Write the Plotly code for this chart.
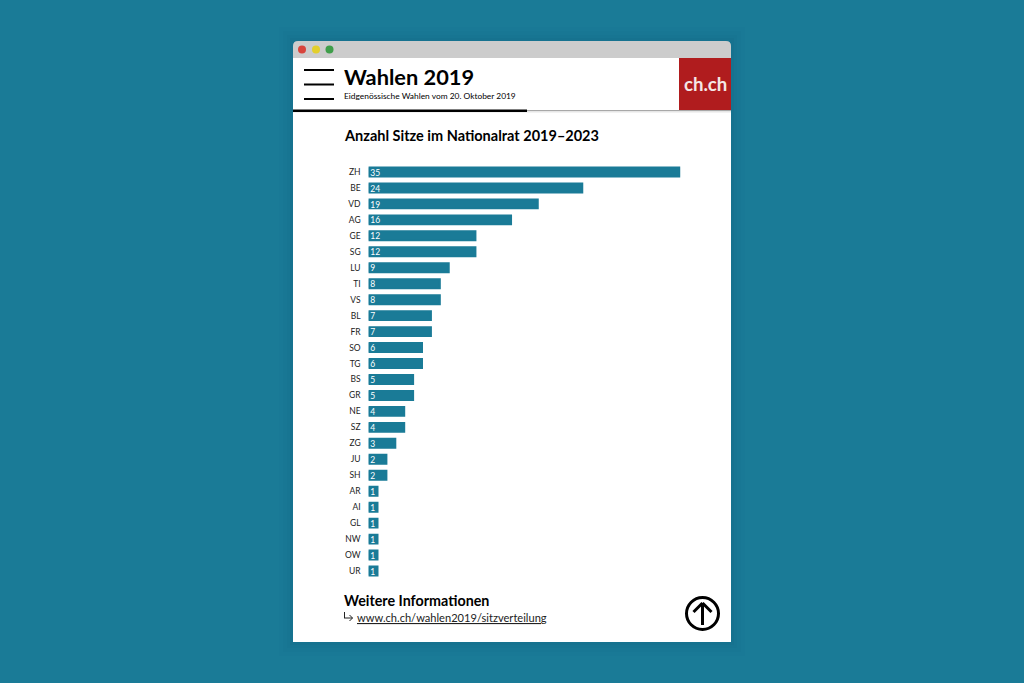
import plotly.graph_objects as go

W, H = 1024, 683

cantons = ["ZH", "BE", "VD", "AG", "GE", "SG", "LU", "TI", "VS", "BL", "FR", "SO", "TG",
           "BS", "GR", "NE", "SZ", "ZG", "JU", "SH", "AR", "AI", "GL", "NW", "OW", "UR"]
seats = [35, 24, 19, 16, 12, 12, 9, 8, 8, 7, 7, 6, 6, 5, 5, 4, 4, 3, 2, 2, 1, 1, 1, 1, 1, 1]

TEAL = "#1a7b97"
FONT = "Lato"
LABEL_INSET = 0.2


def px(v):
    return v / W


def py(v):
    return 1 - v / H


def rect(x0, y0, x1, y1, fill, line=None, width=0, layer="below"):
    return dict(type="rect", xref="paper", yref="paper", layer=layer,
                x0=px(x0), x1=px(x1), y0=py(y0), y1=py(y1), fillcolor=fill,
                line=dict(color=line or fill, width=width))


def circle(cx, cy, r, fill, line=None, width=0):
    return dict(type="circle", xref="paper", yref="paper", layer="below",
                x0=px(cx - r), x1=px(cx + r), y0=py(cy - r), y1=py(cy + r), fillcolor=fill,
                line=dict(color=line or fill, width=width))


def seg(x0, y0, x1, y1, color="#000000", width=2):
    return dict(type="line", xref="paper", yref="paper", layer="below",
                x0=px(x0), x1=px(x1), y0=py(y0), y1=py(y1), line=dict(color=color, width=width))


def text(x, y, s, size, color="#000000", anchor="left", family=FONT):
    return dict(xref="paper", yref="paper", x=px(x), y=py(y), text=s, showarrow=False,
                xanchor=anchor, yanchor="middle", align=anchor,
                font=dict(family=family, size=size, color=color), borderpad=0)


shapes = []
for grow, alpha in ((14, 0.02), (10, 0.025), (6, 0.03), (3, 0.04)):
    shapes.append(rect(293 - grow, 41 - grow, 731 + grow, 642 + grow, f"rgba(10,60,80,{alpha})"))

shapes += [
    rect(293, 50, 731, 642, "#ffffff"),
    dict(type="path", xref="paper", yref="paper", layer="below",
         path=(f"M {px(293)} {py(58)} L {px(293)} {py(46)} Q {px(293)} {py(41)} {px(298)} {py(41)} "
               f"L {px(726)} {py(41)} Q {px(731)} {py(41)} {px(731)} {py(46)} L {px(731)} {py(58)} Z"),
         fillcolor="#cccccc", line=dict(width=0)),
    circle(302, 49.5, 4, "#d8443c"),
    circle(316, 49.5, 4, "#e3cf2b"),
    circle(329.5, 49.5, 4, "#3f9e4a"),
    rect(293, 110, 731, 111, "#a8a8a8"),
    rect(293, 111, 731, 112.5, "#e6e6e6"),
    rect(293, 109.5, 527, 112, "#000000"),
    rect(679, 58, 731, 110, "#b01c1e"),
    seg(304, 70, 334, 70),
    seg(304, 84.5, 334, 84.5),
    seg(304, 99, 334, 99),
    circle(702.5, 613.5, 16, "rgba(0,0,0,0)", "#000000", 3),
    seg(702.5, 603, 702.5, 625, width=3),
    seg(693.5, 612, 702.5, 603, width=3),
    seg(711.5, 612, 702.5, 603, width=3),
    seg(344, 618, 352.5, 618, "#222222", 1),
    seg(344.5, 612, 344.5, 618, "#222222", 1),
    seg(349.5, 615, 352.5, 618, "#222222", 1),
    seg(349.5, 621, 352.5, 618, "#222222", 1),
]

annotations = [
    text(343, 76.5, "<b>Wahlen 2019</b>", 21.8),
    text(343, 96, "Eidgenössische Wahlen vom 20. Oktober 2019", 8.4),
    text(705, 84.5, "<b>ch.ch</b>", 18.6, "#f4e6e6", "center"),
    text(342.5, 135.5, "<b>Anzahl Sitze im Nationalrat 2019–2023</b>", 14.5),
    text(343, 600.5, "<b>Weitere Informationen</b>", 14.3),
    text(356, 617.5, "<u>www.ch.ch/wahlen2019/sitzverteilung</u>", 11.1, "#222222"),
]

fig = go.Figure()
fig.add_trace(go.Bar(
    x=seats, y=cantons, orientation="h", marker=dict(color=TEAL, line=dict(color=TEAL, width=2)),
    hoverinfo="x+y",
))
fig.add_trace(go.Scatter(
    x=[LABEL_INSET] * len(cantons), y=cantons, yaxis="y2", mode="text", text=seats,
    textposition="middle right",
    textfont=dict(family=FONT, size=8.5, color="#ffffff"), hoverinfo="skip",
))
fig.update_layout(
    width=W, height=H, autosize=False, margin=dict(l=0, r=0, t=0, b=0),
    paper_bgcolor=TEAL, plot_bgcolor="rgba(0,0,0,0)", showlegend=False, bargap=0.44,
    shapes=shapes, annotations=annotations,
    xaxis=dict(domain=[px(368.6), px(680.2)], range=[0, 35], visible=False, fixedrange=True),
    yaxis=dict(domain=[py(579), py(164)], range=[len(cantons) - 0.5, -0.5], type="category",
               categoryorder="array", categoryarray=cantons,
               showgrid=False, zeroline=False, showline=False, ticks="", ticklen=0,
               ticklabelstandoff=7, fixedrange=True,
               tickfont=dict(family=FONT, size=8.5, color="#222222")),
    yaxis2=dict(domain=[py(580.5), py(165.5)], range=[len(cantons) - 0.5, -0.5], type="category",
                categoryorder="array", categoryarray=cantons, anchor="x",
                visible=False, fixedrange=True),
)
fig.write_html("out.html", config=dict(displayModeBar=False),
               post_script="document.body.style.margin='0';document.body.style.background='%s';" % TEAL)
